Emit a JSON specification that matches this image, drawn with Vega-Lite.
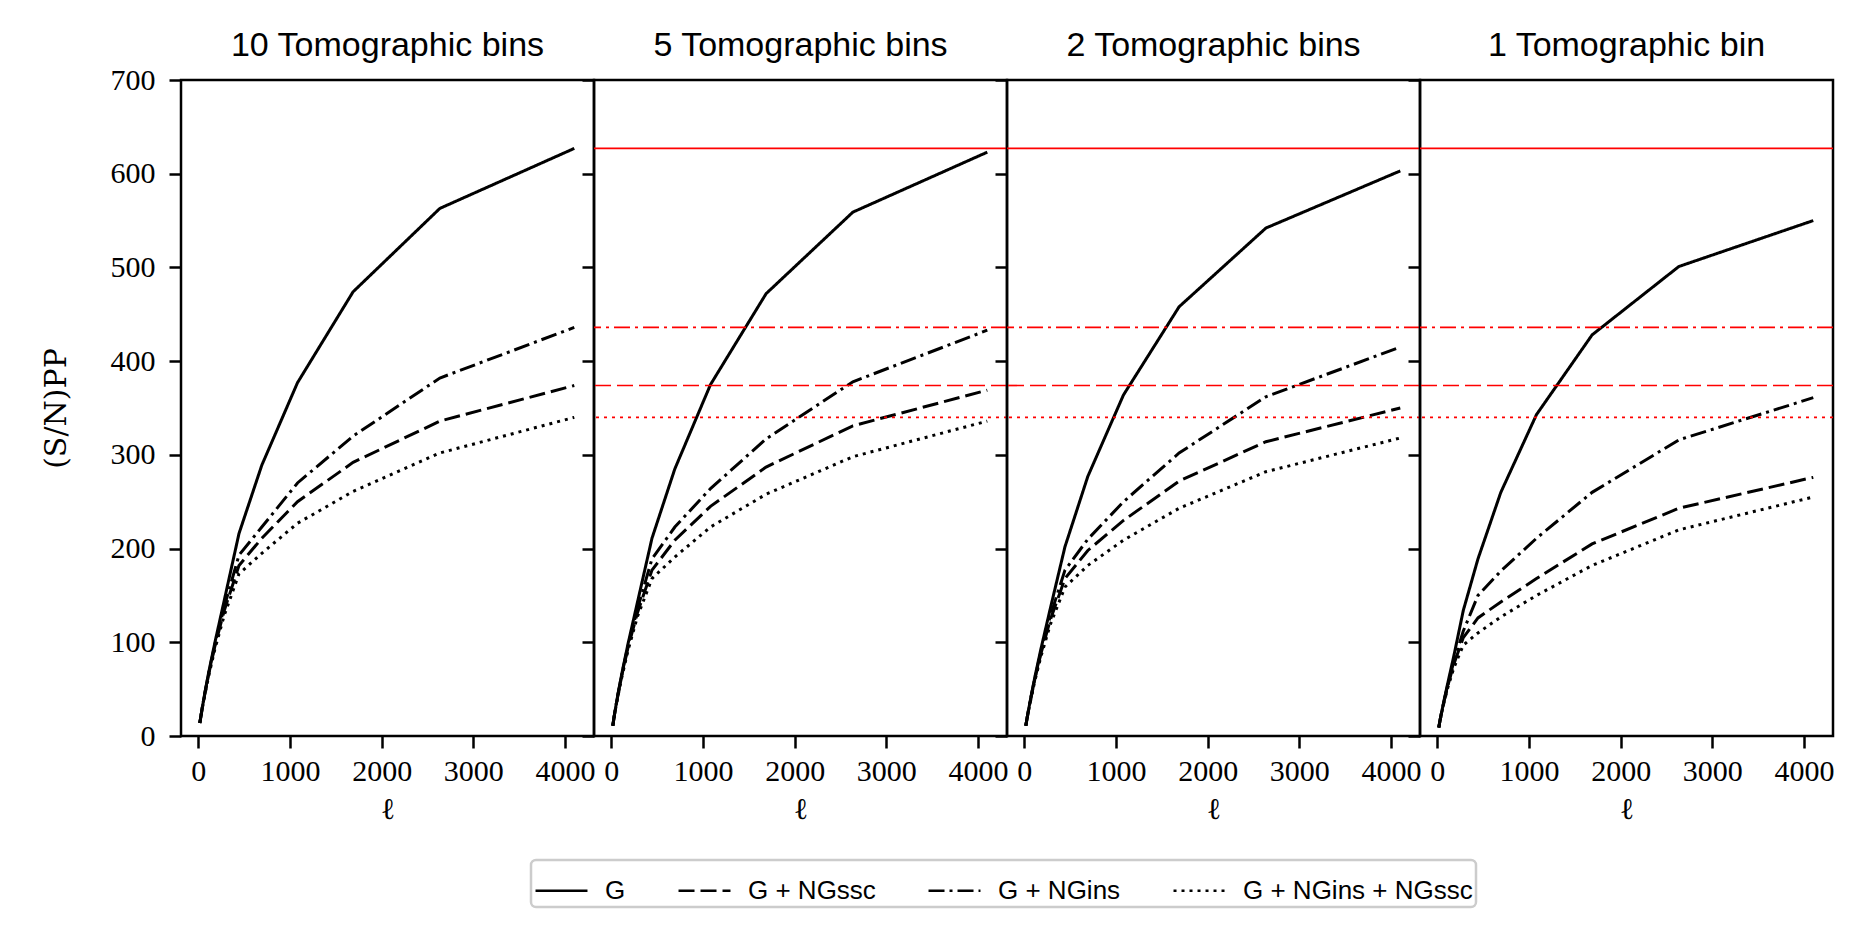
{
  "$schema": "https://vega.github.io/schema/vega-lite/v6.json",
  "background": "white",
  "padding": {"left": 39, "top": 27, "right": 5, "bottom": 5},
  "spacing": 0,
  "bounds": "flush",
  "datasets": {
    "curves": [
      {"panel": "10", "series": "G", "ell": 18, "sn": 14}, {"panel": "10", "series": "G", "ell": 30, "sn": 21}, {"panel": "10", "series": "G", "ell": 48, "sn": 32}, {"panel": "10", "series": "G", "ell": 75, "sn": 47}, {"panel": "10", "series": "G", "ell": 117, "sn": 69}, {"panel": "10", "series": "G", "ell": 183, "sn": 100}, {"panel": "10", "series": "G", "ell": 285, "sn": 145}, {"panel": "10", "series": "G", "ell": 445, "sn": 216}, {"panel": "10", "series": "G", "ell": 694, "sn": 289}, {"panel": "10", "series": "G", "ell": 1083, "sn": 377}, {"panel": "10", "series": "G", "ell": 1689, "sn": 474}, {"panel": "10", "series": "G", "ell": 2635, "sn": 563}, {"panel": "10", "series": "G", "ell": 4100, "sn": 627},
      {"panel": "10", "series": "G + NGins", "ell": 18, "sn": 14}, {"panel": "10", "series": "G + NGins", "ell": 30, "sn": 21}, {"panel": "10", "series": "G + NGins", "ell": 48, "sn": 32}, {"panel": "10", "series": "G + NGins", "ell": 75, "sn": 47}, {"panel": "10", "series": "G + NGins", "ell": 117, "sn": 68}, {"panel": "10", "series": "G + NGins", "ell": 183, "sn": 98}, {"panel": "10", "series": "G + NGins", "ell": 285, "sn": 138}, {"panel": "10", "series": "G + NGins", "ell": 445, "sn": 193}, {"panel": "10", "series": "G + NGins", "ell": 694, "sn": 223}, {"panel": "10", "series": "G + NGins", "ell": 1083, "sn": 270}, {"panel": "10", "series": "G + NGins", "ell": 1689, "sn": 320}, {"panel": "10", "series": "G + NGins", "ell": 2635, "sn": 382}, {"panel": "10", "series": "G + NGins", "ell": 4100, "sn": 436},
      {"panel": "10", "series": "G + NGssc", "ell": 18, "sn": 14}, {"panel": "10", "series": "G + NGssc", "ell": 30, "sn": 21}, {"panel": "10", "series": "G + NGssc", "ell": 48, "sn": 32}, {"panel": "10", "series": "G + NGssc", "ell": 75, "sn": 46}, {"panel": "10", "series": "G + NGssc", "ell": 117, "sn": 67}, {"panel": "10", "series": "G + NGssc", "ell": 183, "sn": 96}, {"panel": "10", "series": "G + NGssc", "ell": 285, "sn": 134}, {"panel": "10", "series": "G + NGssc", "ell": 445, "sn": 182}, {"panel": "10", "series": "G + NGssc", "ell": 694, "sn": 211}, {"panel": "10", "series": "G + NGssc", "ell": 1083, "sn": 250}, {"panel": "10", "series": "G + NGssc", "ell": 1689, "sn": 292}, {"panel": "10", "series": "G + NGssc", "ell": 2635, "sn": 336}, {"panel": "10", "series": "G + NGssc", "ell": 4100, "sn": 374},
      {"panel": "10", "series": "G + NGins + NGssc", "ell": 18, "sn": 14}, {"panel": "10", "series": "G + NGins + NGssc", "ell": 30, "sn": 21}, {"panel": "10", "series": "G + NGins + NGssc", "ell": 48, "sn": 31}, {"panel": "10", "series": "G + NGins + NGssc", "ell": 75, "sn": 45}, {"panel": "10", "series": "G + NGins + NGssc", "ell": 117, "sn": 65}, {"panel": "10", "series": "G + NGins + NGssc", "ell": 183, "sn": 93}, {"panel": "10", "series": "G + NGins + NGssc", "ell": 285, "sn": 129}, {"panel": "10", "series": "G + NGins + NGssc", "ell": 445, "sn": 173}, {"panel": "10", "series": "G + NGins + NGssc", "ell": 694, "sn": 195}, {"panel": "10", "series": "G + NGins + NGssc", "ell": 1083, "sn": 227}, {"panel": "10", "series": "G + NGins + NGssc", "ell": 1689, "sn": 261}, {"panel": "10", "series": "G + NGins + NGssc", "ell": 2635, "sn": 302}, {"panel": "10", "series": "G + NGins + NGssc", "ell": 4100, "sn": 340},

      {"panel": "5", "series": "G", "ell": 18, "sn": 11}, {"panel": "5", "series": "G", "ell": 30, "sn": 19}, {"panel": "5", "series": "G", "ell": 48, "sn": 30}, {"panel": "5", "series": "G", "ell": 75, "sn": 45}, {"panel": "5", "series": "G", "ell": 117, "sn": 67}, {"panel": "5", "series": "G", "ell": 183, "sn": 98}, {"panel": "5", "series": "G", "ell": 285, "sn": 142}, {"panel": "5", "series": "G", "ell": 445, "sn": 211}, {"panel": "5", "series": "G", "ell": 694, "sn": 285}, {"panel": "5", "series": "G", "ell": 1083, "sn": 375}, {"panel": "5", "series": "G", "ell": 1689, "sn": 472}, {"panel": "5", "series": "G", "ell": 2635, "sn": 559}, {"panel": "5", "series": "G", "ell": 4100, "sn": 623},
      {"panel": "5", "series": "G + NGins", "ell": 18, "sn": 11}, {"panel": "5", "series": "G + NGins", "ell": 30, "sn": 19}, {"panel": "5", "series": "G + NGins", "ell": 48, "sn": 30}, {"panel": "5", "series": "G + NGins", "ell": 75, "sn": 45}, {"panel": "5", "series": "G + NGins", "ell": 117, "sn": 66}, {"panel": "5", "series": "G + NGins", "ell": 183, "sn": 96}, {"panel": "5", "series": "G + NGins", "ell": 285, "sn": 135}, {"panel": "5", "series": "G + NGins", "ell": 445, "sn": 189}, {"panel": "5", "series": "G + NGins", "ell": 694, "sn": 223}, {"panel": "5", "series": "G + NGins", "ell": 1083, "sn": 264}, {"panel": "5", "series": "G + NGins", "ell": 1689, "sn": 317}, {"panel": "5", "series": "G + NGins", "ell": 2635, "sn": 378}, {"panel": "5", "series": "G + NGins", "ell": 4100, "sn": 433},
      {"panel": "5", "series": "G + NGssc", "ell": 18, "sn": 11}, {"panel": "5", "series": "G + NGssc", "ell": 30, "sn": 19}, {"panel": "5", "series": "G + NGssc", "ell": 48, "sn": 30}, {"panel": "5", "series": "G + NGssc", "ell": 75, "sn": 44}, {"panel": "5", "series": "G + NGssc", "ell": 117, "sn": 65}, {"panel": "5", "series": "G + NGssc", "ell": 183, "sn": 94}, {"panel": "5", "series": "G + NGssc", "ell": 285, "sn": 131}, {"panel": "5", "series": "G + NGssc", "ell": 445, "sn": 177}, {"panel": "5", "series": "G + NGssc", "ell": 694, "sn": 209}, {"panel": "5", "series": "G + NGssc", "ell": 1083, "sn": 245}, {"panel": "5", "series": "G + NGssc", "ell": 1689, "sn": 287}, {"panel": "5", "series": "G + NGssc", "ell": 2635, "sn": 331}, {"panel": "5", "series": "G + NGssc", "ell": 4100, "sn": 369},
      {"panel": "5", "series": "G + NGins + NGssc", "ell": 18, "sn": 11}, {"panel": "5", "series": "G + NGins + NGssc", "ell": 30, "sn": 19}, {"panel": "5", "series": "G + NGins + NGssc", "ell": 48, "sn": 29}, {"panel": "5", "series": "G + NGins + NGssc", "ell": 75, "sn": 43}, {"panel": "5", "series": "G + NGins + NGssc", "ell": 117, "sn": 63}, {"panel": "5", "series": "G + NGins + NGssc", "ell": 183, "sn": 91}, {"panel": "5", "series": "G + NGins + NGssc", "ell": 285, "sn": 127}, {"panel": "5", "series": "G + NGins + NGssc", "ell": 445, "sn": 168}, {"panel": "5", "series": "G + NGins + NGssc", "ell": 694, "sn": 191}, {"panel": "5", "series": "G + NGins + NGssc", "ell": 1083, "sn": 223}, {"panel": "5", "series": "G + NGins + NGssc", "ell": 1689, "sn": 258}, {"panel": "5", "series": "G + NGins + NGssc", "ell": 2635, "sn": 298}, {"panel": "5", "series": "G + NGins + NGssc", "ell": 4100, "sn": 336},

      {"panel": "2", "series": "G", "ell": 18, "sn": 11}, {"panel": "2", "series": "G", "ell": 30, "sn": 18}, {"panel": "2", "series": "G", "ell": 48, "sn": 28}, {"panel": "2", "series": "G", "ell": 75, "sn": 42}, {"panel": "2", "series": "G", "ell": 117, "sn": 63}, {"panel": "2", "series": "G", "ell": 183, "sn": 93}, {"panel": "2", "series": "G", "ell": 285, "sn": 136}, {"panel": "2", "series": "G", "ell": 445, "sn": 202}, {"panel": "2", "series": "G", "ell": 694, "sn": 277}, {"panel": "2", "series": "G", "ell": 1083, "sn": 364}, {"panel": "2", "series": "G", "ell": 1689, "sn": 458}, {"panel": "2", "series": "G", "ell": 2635, "sn": 542}, {"panel": "2", "series": "G", "ell": 4100, "sn": 603},
      {"panel": "2", "series": "G + NGins", "ell": 18, "sn": 11}, {"panel": "2", "series": "G + NGins", "ell": 30, "sn": 18}, {"panel": "2", "series": "G + NGins", "ell": 48, "sn": 28}, {"panel": "2", "series": "G + NGins", "ell": 75, "sn": 42}, {"panel": "2", "series": "G + NGins", "ell": 117, "sn": 62}, {"panel": "2", "series": "G + NGins", "ell": 183, "sn": 90}, {"panel": "2", "series": "G + NGins", "ell": 285, "sn": 128}, {"panel": "2", "series": "G + NGins", "ell": 445, "sn": 177}, {"panel": "2", "series": "G + NGins", "ell": 694, "sn": 210}, {"panel": "2", "series": "G + NGins", "ell": 1083, "sn": 250}, {"panel": "2", "series": "G + NGins", "ell": 1689, "sn": 302}, {"panel": "2", "series": "G + NGins", "ell": 2635, "sn": 362}, {"panel": "2", "series": "G + NGins", "ell": 4100, "sn": 415},
      {"panel": "2", "series": "G + NGssc", "ell": 18, "sn": 11}, {"panel": "2", "series": "G + NGssc", "ell": 30, "sn": 18}, {"panel": "2", "series": "G + NGssc", "ell": 48, "sn": 28}, {"panel": "2", "series": "G + NGssc", "ell": 75, "sn": 41}, {"panel": "2", "series": "G + NGssc", "ell": 117, "sn": 61}, {"panel": "2", "series": "G + NGssc", "ell": 183, "sn": 88}, {"panel": "2", "series": "G + NGssc", "ell": 285, "sn": 124}, {"panel": "2", "series": "G + NGssc", "ell": 445, "sn": 168}, {"panel": "2", "series": "G + NGssc", "ell": 694, "sn": 198}, {"panel": "2", "series": "G + NGssc", "ell": 1083, "sn": 230}, {"panel": "2", "series": "G + NGssc", "ell": 1689, "sn": 272}, {"panel": "2", "series": "G + NGssc", "ell": 2635, "sn": 314}, {"panel": "2", "series": "G + NGssc", "ell": 4100, "sn": 350},
      {"panel": "2", "series": "G + NGins + NGssc", "ell": 18, "sn": 11}, {"panel": "2", "series": "G + NGins + NGssc", "ell": 30, "sn": 18}, {"panel": "2", "series": "G + NGins + NGssc", "ell": 48, "sn": 27}, {"panel": "2", "series": "G + NGins + NGssc", "ell": 75, "sn": 40}, {"panel": "2", "series": "G + NGins + NGssc", "ell": 117, "sn": 59}, {"panel": "2", "series": "G + NGins + NGssc", "ell": 183, "sn": 85}, {"panel": "2", "series": "G + NGins + NGssc", "ell": 285, "sn": 119}, {"panel": "2", "series": "G + NGins + NGssc", "ell": 445, "sn": 159}, {"panel": "2", "series": "G + NGins + NGssc", "ell": 694, "sn": 182}, {"panel": "2", "series": "G + NGins + NGssc", "ell": 1083, "sn": 209}, {"panel": "2", "series": "G + NGins + NGssc", "ell": 1689, "sn": 243}, {"panel": "2", "series": "G + NGins + NGssc", "ell": 2635, "sn": 282}, {"panel": "2", "series": "G + NGins + NGssc", "ell": 4100, "sn": 318},

      {"panel": "1", "series": "G", "ell": 18, "sn": 9}, {"panel": "1", "series": "G", "ell": 30, "sn": 16}, {"panel": "1", "series": "G", "ell": 48, "sn": 25}, {"panel": "1", "series": "G", "ell": 75, "sn": 38}, {"panel": "1", "series": "G", "ell": 117, "sn": 57}, {"panel": "1", "series": "G", "ell": 183, "sn": 86}, {"panel": "1", "series": "G", "ell": 285, "sn": 134}, {"panel": "1", "series": "G", "ell": 445, "sn": 189}, {"panel": "1", "series": "G", "ell": 694, "sn": 260}, {"panel": "1", "series": "G", "ell": 1083, "sn": 343}, {"panel": "1", "series": "G", "ell": 1689, "sn": 428}, {"panel": "1", "series": "G", "ell": 2635, "sn": 501}, {"panel": "1", "series": "G", "ell": 4100, "sn": 550},
      {"panel": "1", "series": "G + NGins", "ell": 18, "sn": 9}, {"panel": "1", "series": "G + NGins", "ell": 30, "sn": 16}, {"panel": "1", "series": "G + NGins", "ell": 48, "sn": 25}, {"panel": "1", "series": "G + NGins", "ell": 75, "sn": 37}, {"panel": "1", "series": "G + NGins", "ell": 117, "sn": 55}, {"panel": "1", "series": "G + NGins", "ell": 183, "sn": 80}, {"panel": "1", "series": "G + NGins", "ell": 285, "sn": 112}, {"panel": "1", "series": "G + NGins", "ell": 445, "sn": 150}, {"panel": "1", "series": "G + NGins", "ell": 694, "sn": 176}, {"panel": "1", "series": "G + NGins", "ell": 1083, "sn": 211}, {"panel": "1", "series": "G + NGins", "ell": 1689, "sn": 260}, {"panel": "1", "series": "G + NGins", "ell": 2635, "sn": 316}, {"panel": "1", "series": "G + NGins", "ell": 4100, "sn": 361},
      {"panel": "1", "series": "G + NGssc", "ell": 18, "sn": 9}, {"panel": "1", "series": "G + NGssc", "ell": 30, "sn": 16}, {"panel": "1", "series": "G + NGssc", "ell": 48, "sn": 25}, {"panel": "1", "series": "G + NGssc", "ell": 75, "sn": 37}, {"panel": "1", "series": "G + NGssc", "ell": 117, "sn": 54}, {"panel": "1", "series": "G + NGssc", "ell": 183, "sn": 77}, {"panel": "1", "series": "G + NGssc", "ell": 285, "sn": 105}, {"panel": "1", "series": "G + NGssc", "ell": 445, "sn": 126}, {"panel": "1", "series": "G + NGssc", "ell": 694, "sn": 143}, {"panel": "1", "series": "G + NGssc", "ell": 1083, "sn": 168}, {"panel": "1", "series": "G + NGssc", "ell": 1689, "sn": 205}, {"panel": "1", "series": "G + NGssc", "ell": 2635, "sn": 243}, {"panel": "1", "series": "G + NGssc", "ell": 4100, "sn": 276},
      {"panel": "1", "series": "G + NGins + NGssc", "ell": 18, "sn": 9}, {"panel": "1", "series": "G + NGins + NGssc", "ell": 30, "sn": 16}, {"panel": "1", "series": "G + NGins + NGssc", "ell": 48, "sn": 24}, {"panel": "1", "series": "G + NGins + NGssc", "ell": 75, "sn": 36}, {"panel": "1", "series": "G + NGins + NGssc", "ell": 117, "sn": 52}, {"panel": "1", "series": "G + NGins + NGssc", "ell": 183, "sn": 73}, {"panel": "1", "series": "G + NGins + NGssc", "ell": 285, "sn": 97}, {"panel": "1", "series": "G + NGins + NGssc", "ell": 445, "sn": 110}, {"panel": "1", "series": "G + NGins + NGssc", "ell": 694, "sn": 127}, {"panel": "1", "series": "G + NGins + NGssc", "ell": 1083, "sn": 150}, {"panel": "1", "series": "G + NGins + NGssc", "ell": 1689, "sn": 182}, {"panel": "1", "series": "G + NGins + NGssc", "ell": 2635, "sn": 220}, {"panel": "1", "series": "G + NGins + NGssc", "ell": 4100, "sn": 255}
    ],
    "ref": [
      {"series": "G", "sn": 627},
      {"series": "G + NGssc", "sn": 374},
      {"series": "G + NGins", "sn": 436},
      {"series": "G + NGins + NGssc", "sn": 340}
    ]
  },
  "hconcat": [
    {
      "width": 413, "height": 656,
      "title": {"text": "10 Tomographic bins", "offset": 2},
      "data": {"name": "curves"},
      "transform": [{"filter": "datum.panel == '10'"}],
      "mark": {"type": "line", "color": "black", "strokeWidth": 3},
      "encoding": {
        "x": {"field": "ell", "type": "quantitative", "scale": {"domain": [-187, 4315], "nice": false, "zero": false}, "axis": {"values": [0, 1000, 2000, 3000, 4000], "format": "d", "title": "ℓ"}},
        "y": {"field": "sn", "type": "quantitative", "scale": {"domain": [0, 700], "nice": false}, "axis": {"values": [0, 100, 200, 300, 400, 500, 600, 700], "format": "d", "title": "(S/N)PP"}},
        "strokeDash": {"field": "series", "type": "nominal", "scale": {"domain": ["G", "G + NGssc", "G + NGins", "G + NGins + NGssc"], "range": [[1, 0], [16, 6], [16, 5, 3, 5], [3, 5]]}, "legend": {"title": null}}
      }
    },
    {
      "width": 413, "height": 656,
      "title": {"text": "5 Tomographic bins", "offset": 16},
      "layer": [
        {
          "data": {"name": "curves"},
          "transform": [{"filter": "datum.panel == '5'"}],
          "mark": {"type": "line", "color": "black", "strokeWidth": 3},
          "encoding": {
            "x": {"field": "ell", "type": "quantitative", "scale": {"domain": [-187, 4315], "nice": false, "zero": false}, "axis": {"values": [0, 1000, 2000, 3000, 4000], "format": "d", "title": "ℓ"}},
            "y": {"field": "sn", "type": "quantitative", "scale": {"domain": [0, 700], "nice": false}, "axis": {"values": [0, 100, 200, 300, 400, 500, 600, 700], "labels": false, "title": null}},
            "strokeDash": {"field": "series", "type": "nominal", "legend": {"title": null}}
          }
        },
        {
          "data": {"name": "ref"},
          "mark": {"type": "rule", "color": "red", "strokeWidth": 1.7},
          "encoding": {
            "y": {"field": "sn", "type": "quantitative"},
            "strokeDash": {"field": "series", "type": "nominal"}
          }
        }
      ]
    },
    {
      "width": 413, "height": 656,
      "title": {"text": "2 Tomographic bins", "offset": 16},
      "layer": [
        {
          "data": {"name": "curves"},
          "transform": [{"filter": "datum.panel == '2'"}],
          "mark": {"type": "line", "color": "black", "strokeWidth": 3},
          "encoding": {
            "x": {"field": "ell", "type": "quantitative", "scale": {"domain": [-187, 4315], "nice": false, "zero": false}, "axis": {"values": [0, 1000, 2000, 3000, 4000], "format": "d", "title": "ℓ"}},
            "y": {"field": "sn", "type": "quantitative", "scale": {"domain": [0, 700], "nice": false}, "axis": {"values": [0, 100, 200, 300, 400, 500, 600, 700], "labels": false, "title": null}},
            "strokeDash": {"field": "series", "type": "nominal", "legend": {"title": null}}
          }
        },
        {
          "data": {"name": "ref"},
          "mark": {"type": "rule", "color": "red", "strokeWidth": 1.7},
          "encoding": {
            "y": {"field": "sn", "type": "quantitative"},
            "strokeDash": {"field": "series", "type": "nominal"}
          }
        }
      ]
    },
    {
      "width": 413, "height": 656,
      "title": {"text": "1 Tomographic bin", "offset": 16},
      "layer": [
        {
          "data": {"name": "curves"},
          "transform": [{"filter": "datum.panel == '1'"}],
          "mark": {"type": "line", "color": "black", "strokeWidth": 3},
          "encoding": {
            "x": {"field": "ell", "type": "quantitative", "scale": {"domain": [-187, 4315], "nice": false, "zero": false}, "axis": {"values": [0, 1000, 2000, 3000, 4000], "format": "d", "title": "ℓ"}},
            "y": {"field": "sn", "type": "quantitative", "scale": {"domain": [0, 700], "nice": false}, "axis": {"values": [0, 100, 200, 300, 400, 500, 600, 700], "labels": false, "title": null}},
            "strokeDash": {"field": "series", "type": "nominal", "legend": {"title": null}}
          }
        },
        {
          "data": {"name": "ref"},
          "mark": {"type": "rule", "color": "red", "strokeWidth": 1.7},
          "encoding": {
            "y": {"field": "sn", "type": "quantitative"},
            "strokeDash": {"field": "series", "type": "nominal"}
          }
        }
      ]
    }
  ],
  "resolve": {"scale": {"x": "independent", "y": "independent"}, "axis": {"x": "independent", "y": "independent"}},
  "config": {
    "view": {"stroke": "black", "strokeWidth": 2.5},
    "title": {"font": "Liberation Sans", "fontSize": 34, "fontWeight": "normal", "color": "black", "anchor": "middle", "frame": "group"},
    "axis": {
      "domain": false, "grid": false,
      "tickColor": "black", "tickWidth": 2.5, "tickSize": 12,
      "labelFont": "Liberation Serif", "labelFontSize": 30, "labelColor": "black", "labelFlush": false, "labelOverlap": false,
      "titleFont": "DejaVu Serif", "titleFontSize": 30, "titleFontWeight": "normal", "titleColor": "black"
    },
    "axisX": {"titlePadding": 8, "labelPadding": 8},
    "axisY": {"titlePadding": 39, "labelPadding": 14},
    "legend": {
      "orient": "none", "legendX": 350, "legendY": 780, "direction": "horizontal",
      "symbolType": "stroke", "symbolSize": 2700, "symbolStrokeWidth": 2.5, "symbolStrokeColor": "black",
      "labelFont": "Liberation Sans", "labelFontSize": 26, "labelColor": "black", "labelOffset": 16, "labelLimit": 400,
      "columnPadding": 47, "padding": 3, "strokeColor": "#cccccc", "strokeWidth": 2.5, "cornerRadius": 5, "fillColor": "white"
    }
  }
}
